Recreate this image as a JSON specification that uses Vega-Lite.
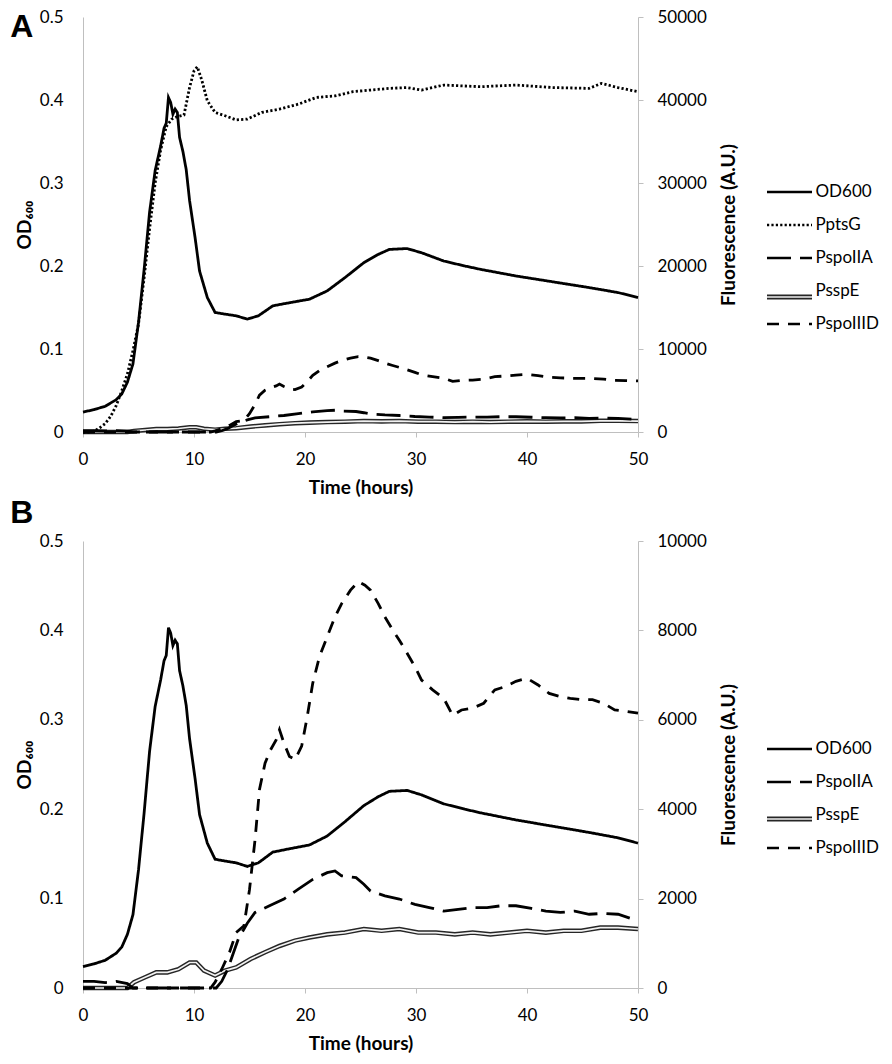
{
  "$schema": "https://vega.github.io/schema/vega-lite/v6.json",
  "description": "Growth (OD600) and promoter fluorescence over time, panels A and B",
  "padding": {"left": 10, "top": 8, "right": 2, "bottom": 2},
  "background": "white",
  "config": {
    "view": {"stroke": null},
    "font": "Lato",
    "axis": {
      "grid": false,
      "domainColor": "#bfbfbf",
      "tickColor": "#bfbfbf",
      "labelFont": "Lato",
      "labelFontSize": 17,
      "labelColor": "black",
      "labelFlush": false,
      "titleFont": "Lato, DejaVu Sans",
      "titleFontSize": 19,
      "titleFontWeight": "bold",
      "titleColor": "black"
    },
    "legend": {
      "labelFont": "Lato",
      "labelFontSize": 17,
      "labelColor": "black",
      "title": null,
      "orient": "none",
      "symbolType": "stroke",
      "symbolSize": 2025,
      "labelOffset": 2,
      "rowPadding": 1
    }
  },
  "datasets": {
    "curves": [
      {"t": 0, "v": 0.024, "s": "OD600"}, {"t": 1, "v": 0.027, "s": "OD600"}, {"t": 2, "v": 0.031, "s": "OD600"},
      {"t": 3, "v": 0.039, "s": "OD600"}, {"t": 3.5, "v": 0.046, "s": "OD600"}, {"t": 4, "v": 0.06, "s": "OD600"},
      {"t": 4.5, "v": 0.082, "s": "OD600"}, {"t": 5, "v": 0.132, "s": "OD600"}, {"t": 5.5, "v": 0.195, "s": "OD600"},
      {"t": 6, "v": 0.265, "s": "OD600"}, {"t": 6.5, "v": 0.315, "s": "OD600"}, {"t": 7, "v": 0.345, "s": "OD600"},
      {"t": 7.3, "v": 0.366, "s": "OD600"}, {"t": 7.5, "v": 0.372, "s": "OD600"}, {"t": 7.7, "v": 0.403, "s": "OD600"},
      {"t": 7.9, "v": 0.397, "s": "OD600"}, {"t": 8.1, "v": 0.383, "s": "OD600"}, {"t": 8.3, "v": 0.389, "s": "OD600"},
      {"t": 8.5, "v": 0.385, "s": "OD600"}, {"t": 8.7, "v": 0.355, "s": "OD600"}, {"t": 9, "v": 0.338, "s": "OD600"},
      {"t": 9.3, "v": 0.316, "s": "OD600"}, {"t": 9.6, "v": 0.279, "s": "OD600"}, {"t": 10.1, "v": 0.234, "s": "OD600"},
      {"t": 10.5, "v": 0.194, "s": "OD600"}, {"t": 11.2, "v": 0.162, "s": "OD600"}, {"t": 11.9, "v": 0.144, "s": "OD600"},
      {"t": 12.8, "v": 0.142, "s": "OD600"}, {"t": 13.8, "v": 0.14, "s": "OD600"}, {"t": 14.8, "v": 0.136, "s": "OD600"},
      {"t": 15.8, "v": 0.14, "s": "OD600"}, {"t": 17.1, "v": 0.152, "s": "OD600"}, {"t": 18.7, "v": 0.156, "s": "OD600"},
      {"t": 20.4, "v": 0.16, "s": "OD600"}, {"t": 22, "v": 0.17, "s": "OD600"}, {"t": 23.6, "v": 0.186, "s": "OD600"},
      {"t": 25.3, "v": 0.204, "s": "OD600"}, {"t": 26.6, "v": 0.214, "s": "OD600"}, {"t": 27.6, "v": 0.22, "s": "OD600"},
      {"t": 29.2, "v": 0.221, "s": "OD600"}, {"t": 30.5, "v": 0.216, "s": "OD600"}, {"t": 32.5, "v": 0.206, "s": "OD600"},
      {"t": 34.4, "v": 0.2, "s": "OD600"}, {"t": 35.8, "v": 0.196, "s": "OD600"}, {"t": 39, "v": 0.188, "s": "OD600"},
      {"t": 42.3, "v": 0.181, "s": "OD600"}, {"t": 45.6, "v": 0.174, "s": "OD600"}, {"t": 48.2, "v": 0.168, "s": "OD600"},
      {"t": 50, "v": 0.162, "s": "OD600"},

      {"t": 0, "v": 0, "s": "PptsG"}, {"t": 0.5, "v": 0, "s": "PptsG"}, {"t": 1, "v": 100, "s": "PptsG"},
      {"t": 1.5, "v": 500, "s": "PptsG"}, {"t": 2, "v": 1000, "s": "PptsG"}, {"t": 2.5, "v": 1900, "s": "PptsG"},
      {"t": 3, "v": 3200, "s": "PptsG"}, {"t": 3.5, "v": 5000, "s": "PptsG"}, {"t": 4, "v": 7000, "s": "PptsG"},
      {"t": 4.5, "v": 9800, "s": "PptsG"}, {"t": 5, "v": 13000, "s": "PptsG"}, {"t": 5.5, "v": 18500, "s": "PptsG"},
      {"t": 6, "v": 24500, "s": "PptsG"}, {"t": 6.5, "v": 30000, "s": "PptsG"}, {"t": 7, "v": 34000, "s": "PptsG"},
      {"t": 7.5, "v": 36800, "s": "PptsG"}, {"t": 8, "v": 37700, "s": "PptsG"}, {"t": 8.5, "v": 38000, "s": "PptsG"},
      {"t": 9.1, "v": 38200, "s": "PptsG"}, {"t": 9.6, "v": 41500, "s": "PptsG"}, {"t": 10, "v": 43500, "s": "PptsG"},
      {"t": 10.3, "v": 44000, "s": "PptsG"}, {"t": 10.7, "v": 42400, "s": "PptsG"}, {"t": 11.2, "v": 39900, "s": "PptsG"},
      {"t": 11.9, "v": 38500, "s": "PptsG"}, {"t": 12.8, "v": 38100, "s": "PptsG"}, {"t": 13.8, "v": 37600, "s": "PptsG"},
      {"t": 14.8, "v": 37700, "s": "PptsG"}, {"t": 16.1, "v": 38500, "s": "PptsG"}, {"t": 17.7, "v": 38900, "s": "PptsG"},
      {"t": 19.4, "v": 39500, "s": "PptsG"}, {"t": 21, "v": 40300, "s": "PptsG"}, {"t": 22.7, "v": 40500, "s": "PptsG"},
      {"t": 24.3, "v": 41000, "s": "PptsG"}, {"t": 25.9, "v": 41200, "s": "PptsG"}, {"t": 27.6, "v": 41400, "s": "PptsG"},
      {"t": 29.2, "v": 41500, "s": "PptsG"}, {"t": 30.5, "v": 41200, "s": "PptsG"}, {"t": 32.5, "v": 41800, "s": "PptsG"},
      {"t": 35.8, "v": 41600, "s": "PptsG"}, {"t": 39, "v": 41800, "s": "PptsG"}, {"t": 42.3, "v": 41500, "s": "PptsG"},
      {"t": 45.6, "v": 41400, "s": "PptsG"}, {"t": 46.7, "v": 42000, "s": "PptsG"}, {"t": 48.2, "v": 41500, "s": "PptsG"},
      {"t": 50, "v": 41000, "s": "PptsG"},

      {"t": 0, "v": 150, "s": "PspoIIA"}, {"t": 1, "v": 150, "s": "PspoIIA"}, {"t": 2, "v": 120, "s": "PspoIIA"},
      {"t": 3, "v": 150, "s": "PspoIIA"}, {"t": 4, "v": 100, "s": "PspoIIA"}, {"t": 4.5, "v": 0, "s": "PspoIIA"},
      {"t": 12, "v": 0, "s": "PspoIIA"}, {"t": 12.5, "v": 150, "s": "PspoIIA"}, {"t": 13, "v": 400, "s": "PspoIIA"},
      {"t": 13.5, "v": 750, "s": "PspoIIA"}, {"t": 14, "v": 1100, "s": "PspoIIA"}, {"t": 14.8, "v": 1450, "s": "PspoIIA"},
      {"t": 15.5, "v": 1690, "s": "PspoIIA"}, {"t": 16.8, "v": 1840, "s": "PspoIIA"}, {"t": 18.1, "v": 1990, "s": "PspoIIA"},
      {"t": 19.4, "v": 2210, "s": "PspoIIA"}, {"t": 20.7, "v": 2430, "s": "PspoIIA"}, {"t": 22, "v": 2580, "s": "PspoIIA"},
      {"t": 22.7, "v": 2620, "s": "PspoIIA"}, {"t": 23.3, "v": 2510, "s": "PspoIIA"}, {"t": 24.6, "v": 2470, "s": "PspoIIA"},
      {"t": 25.3, "v": 2320, "s": "PspoIIA"}, {"t": 25.9, "v": 2170, "s": "PspoIIA"}, {"t": 27.2, "v": 2060, "s": "PspoIIA"},
      {"t": 28.5, "v": 1990, "s": "PspoIIA"}, {"t": 29.9, "v": 1870, "s": "PspoIIA"}, {"t": 31.2, "v": 1800, "s": "PspoIIA"},
      {"t": 32.5, "v": 1720, "s": "PspoIIA"}, {"t": 33.8, "v": 1760, "s": "PspoIIA"}, {"t": 35.1, "v": 1800, "s": "PspoIIA"},
      {"t": 36.4, "v": 1800, "s": "PspoIIA"}, {"t": 37.7, "v": 1840, "s": "PspoIIA"}, {"t": 39, "v": 1840, "s": "PspoIIA"},
      {"t": 40.4, "v": 1780, "s": "PspoIIA"}, {"t": 41.7, "v": 1720, "s": "PspoIIA"}, {"t": 43, "v": 1690, "s": "PspoIIA"},
      {"t": 44.3, "v": 1720, "s": "PspoIIA"}, {"t": 45.6, "v": 1650, "s": "PspoIIA"}, {"t": 46.9, "v": 1670, "s": "PspoIIA"},
      {"t": 48.2, "v": 1650, "s": "PspoIIA"}, {"t": 50, "v": 1500, "s": "PspoIIA"},

      {"t": 0, "v": 0, "s": "PsspE"}, {"t": 4, "v": 0, "s": "PsspE"}, {"t": 4.6, "v": 130, "s": "PsspE"},
      {"t": 5.6, "v": 240, "s": "PsspE"}, {"t": 6.6, "v": 350, "s": "PsspE"}, {"t": 7.6, "v": 350, "s": "PsspE"},
      {"t": 8.6, "v": 420, "s": "PsspE"}, {"t": 9.6, "v": 570, "s": "PsspE"}, {"t": 10.2, "v": 570, "s": "PsspE"},
      {"t": 10.9, "v": 390, "s": "PsspE"}, {"t": 11.9, "v": 280, "s": "PsspE"}, {"t": 12.8, "v": 390, "s": "PsspE"},
      {"t": 13.8, "v": 460, "s": "PsspE"}, {"t": 15.1, "v": 650, "s": "PsspE"}, {"t": 16.4, "v": 800, "s": "PsspE"},
      {"t": 17.7, "v": 940, "s": "PsspE"}, {"t": 19.1, "v": 1060, "s": "PsspE"}, {"t": 20.4, "v": 1130, "s": "PsspE"},
      {"t": 22, "v": 1200, "s": "PsspE"}, {"t": 23.6, "v": 1240, "s": "PsspE"}, {"t": 25.3, "v": 1320, "s": "PsspE"},
      {"t": 26.9, "v": 1280, "s": "PsspE"}, {"t": 28.5, "v": 1320, "s": "PsspE"}, {"t": 30.2, "v": 1240, "s": "PsspE"},
      {"t": 31.8, "v": 1240, "s": "PsspE"}, {"t": 33.5, "v": 1200, "s": "PsspE"}, {"t": 35.1, "v": 1240, "s": "PsspE"},
      {"t": 36.7, "v": 1200, "s": "PsspE"}, {"t": 38.4, "v": 1240, "s": "PsspE"}, {"t": 40, "v": 1280, "s": "PsspE"},
      {"t": 41.7, "v": 1240, "s": "PsspE"}, {"t": 43.3, "v": 1280, "s": "PsspE"}, {"t": 44.9, "v": 1280, "s": "PsspE"},
      {"t": 46.6, "v": 1350, "s": "PsspE"}, {"t": 48.2, "v": 1350, "s": "PsspE"}, {"t": 50, "v": 1320, "s": "PsspE"},

      {"t": 0, "v": 0, "s": "PspoIIID"}, {"t": 11.5, "v": 0, "s": "PspoIIID"}, {"t": 11.9, "v": 130, "s": "PspoIIID"},
      {"t": 12.5, "v": 420, "s": "PspoIIID"}, {"t": 13.2, "v": 800, "s": "PspoIIID"}, {"t": 13.8, "v": 1240, "s": "PspoIIID"},
      {"t": 14.5, "v": 1390, "s": "PspoIIID"}, {"t": 15, "v": 2200, "s": "PspoIIID"}, {"t": 15.5, "v": 3320, "s": "PspoIIID"},
      {"t": 15.9, "v": 4440, "s": "PspoIIID"}, {"t": 16.4, "v": 5030, "s": "PspoIIID"}, {"t": 16.9, "v": 5330, "s": "PspoIIID"},
      {"t": 17.4, "v": 5550, "s": "PspoIIID"}, {"t": 17.7, "v": 5780, "s": "PspoIIID"}, {"t": 18.1, "v": 5480, "s": "PspoIIID"},
      {"t": 18.6, "v": 5180, "s": "PspoIIID"}, {"t": 19.1, "v": 5110, "s": "PspoIIID"}, {"t": 19.7, "v": 5410, "s": "PspoIIID"},
      {"t": 20.2, "v": 6070, "s": "PspoIIID"}, {"t": 20.7, "v": 6820, "s": "PspoIIID"}, {"t": 21.3, "v": 7410, "s": "PspoIIID"},
      {"t": 22, "v": 7860, "s": "PspoIIID"}, {"t": 22.7, "v": 8300, "s": "PspoIIID"}, {"t": 23.3, "v": 8600, "s": "PspoIIID"},
      {"t": 24.1, "v": 8900, "s": "PspoIIID"}, {"t": 24.8, "v": 9090, "s": "PspoIIID"}, {"t": 25.4, "v": 9010, "s": "PspoIIID"},
      {"t": 25.9, "v": 8900, "s": "PspoIIID"}, {"t": 26.6, "v": 8600, "s": "PspoIIID"}, {"t": 27.2, "v": 8300, "s": "PspoIIID"},
      {"t": 27.9, "v": 8010, "s": "PspoIIID"}, {"t": 28.5, "v": 7780, "s": "PspoIIID"}, {"t": 29.2, "v": 7490, "s": "PspoIIID"},
      {"t": 29.9, "v": 7190, "s": "PspoIIID"}, {"t": 30.5, "v": 6890, "s": "PspoIIID"}, {"t": 31.5, "v": 6670, "s": "PspoIIID"},
      {"t": 32.5, "v": 6480, "s": "PspoIIID"}, {"t": 33.3, "v": 6100, "s": "PspoIIID"}, {"t": 34.1, "v": 6220, "s": "PspoIIID"},
      {"t": 35.1, "v": 6260, "s": "PspoIIID"}, {"t": 36.1, "v": 6370, "s": "PspoIIID"}, {"t": 37.1, "v": 6670, "s": "PspoIIID"},
      {"t": 38, "v": 6740, "s": "PspoIIID"}, {"t": 39, "v": 6860, "s": "PspoIIID"}, {"t": 40, "v": 6930, "s": "PspoIIID"},
      {"t": 41, "v": 6780, "s": "PspoIIID"}, {"t": 42, "v": 6590, "s": "PspoIIID"}, {"t": 43, "v": 6520, "s": "PspoIIID"},
      {"t": 43.9, "v": 6480, "s": "PspoIIID"}, {"t": 44.9, "v": 6450, "s": "PspoIIID"}, {"t": 45.9, "v": 6450, "s": "PspoIIID"},
      {"t": 46.9, "v": 6370, "s": "PspoIIID"}, {"t": 47.9, "v": 6220, "s": "PspoIIID"}, {"t": 48.9, "v": 6190, "s": "PspoIIID"},
      {"t": 50, "v": 6150, "s": "PspoIIID"}
    ]
  },
  "spacing": 0,
  "vconcat": [
    {
      "title": {"text": "A", "anchor": "start", "frame": "bounds", "font": "Liberation Sans", "fontSize": 32, "fontWeight": "bold", "color": "black", "offset": -36, "dx": -5},
      "width": 555,
      "height": 415,
      "data": {"name": "curves"},
      "encoding": {
        "x": {
          "field": "t", "type": "quantitative",
          "scale": {"domain": [0, 50], "nice": false},
          "axis": {"title": "Time (hours)", "values": [0, 10, 20, 30, 40, 50], "format": "d", "tickSize": 5, "labelPadding": 14, "titlePadding": 11}
        }
      },
      "layer": [
        {
          "transform": [{"filter": "datum.s === 'OD600'"}],
          "mark": {"type": "line", "color": "black", "strokeWidth": 2.8},
          "encoding": {
            "y": {
              "field": "v", "type": "quantitative",
              "scale": {"domain": [0, 0.5], "nice": false},
              "axis": {"title": "OD₆₀₀", "orient": "left", "values": [0, 0.1, 0.2, 0.3, 0.4, 0.5], "format": "~g", "ticks": false, "tickSize": 0, "labelPadding": 20, "titlePadding": 5}
            },
            "strokeDash": {
              "field": "s", "type": "nominal",
              "scale": {"domain": ["OD600", "PptsG", "PspoIIA", "PsspE", "PspoIIID"], "range": [[1, 0], [2.2, 2.2], [24, 9], [0, 60], [12, 9]]},
              "legend": {"legendX": 682.5, "legendY": 151, "symbolStrokeWidth": 2.6, "symbolStrokeColor": "black"}
            }
          }
        },
        {
          "encoding": {
            "y": {
              "field": "v", "type": "quantitative",
              "scale": {"domain": [0, 50000], "nice": false},
              "axis": {"title": "Fluorescence (A.U.)", "orient": "right", "values": [0, 10000, 20000, 30000, 40000, 50000], "format": "d", "tickSize": 5, "labelPadding": 14, "labelAlign": "left", "titlePadding": 13, "titleAngle": 270, "titleBaseline": "top"}
            }
          },
          "layer": [
            {
              "transform": [{"filter": "datum.s === 'PsspE'"}],
              "mark": {"type": "line", "strokeWidth": 4.6},
              "encoding": {
                "color": {
                  "field": "s", "type": "nominal",
                  "scale": {"domain": ["PsspE"], "range": ["#262626"]},
                  "legend": {"legendX": 681.5, "legendY": 255, "symbolStrokeWidth": 5, "labelExpr": "''"}
                }
              }
            },
            {
              "transform": [{"filter": "datum.s === 'PsspE'"}],
              "mark": {"type": "line", "strokeWidth": 1.7},
              "encoding": {
                "stroke": {
                  "field": "s", "type": "nominal",
                  "scale": {"domain": ["PsspE", "PsspE "], "range": ["#f2f2f2", "transparent"]},
                  "legend": {"legendX": 683, "legendY": 256.5, "symbolStrokeWidth": 1.6, "labelExpr": "''"}
                }
              }
            },
            {
              "transform": [{"filter": "datum.s === 'PptsG' || datum.s === 'PspoIIA' || datum.s === 'PspoIIID'"}],
              "mark": {"type": "line", "color": "black", "strokeWidth": 2.8},
              "encoding": {
                "strokeDash": {
                  "field": "s", "type": "nominal",
                  "scale": {"domain": ["OD600", "PptsG", "PspoIIA", "PsspE", "PspoIIID"], "range": [[1, 0], [2.2, 2.2], [24, 9], [0, 60], [12, 9]]}
                }
              }
            }
          ]
        }
      ],
      "resolve": {"scale": {"y": "independent"}}
    },
    {
      "title": {"text": "B", "anchor": "start", "frame": "bounds", "font": "Liberation Sans", "fontSize": 32, "fontWeight": "bold", "color": "black", "offset": 2, "dx": -5},
      "width": 555,
      "height": 447,
      "data": {"name": "curves"},
      "encoding": {
        "x": {
          "field": "t", "type": "quantitative",
          "scale": {"domain": [0, 50], "nice": false},
          "axis": {"title": "Time (hours)", "values": [0, 10, 20, 30, 40, 50], "format": "d", "tickSize": 5, "labelPadding": 14, "titlePadding": 11}
        }
      },
      "layer": [
        {
          "transform": [{"filter": "datum.s === 'OD600'"}],
          "mark": {"type": "line", "color": "black", "strokeWidth": 2.8},
          "encoding": {
            "y": {
              "field": "v", "type": "quantitative",
              "scale": {"domain": [0, 0.5], "nice": false},
              "axis": {"title": "OD₆₀₀", "orient": "left", "values": [0, 0.1, 0.2, 0.3, 0.4, 0.5], "format": "~g", "ticks": false, "tickSize": 0, "labelPadding": 20, "titlePadding": 5}
            },
            "strokeDash": {
              "field": "s", "type": "nominal",
              "scale": {"domain": ["OD600", "PspoIIA", "PsspE", "PspoIIID"], "range": [[1, 0], [24, 9], [0, 60], [12, 9]]},
              "legend": {"legendX": 682.5, "legendY": 184, "symbolStrokeWidth": 2.6, "symbolStrokeColor": "black"}
            }
          }
        },
        {
          "encoding": {
            "y": {
              "field": "v", "type": "quantitative",
              "scale": {"domain": [0, 10000], "nice": false},
              "axis": {"title": "Fluorescence (A.U.)", "orient": "right", "values": [0, 2000, 4000, 6000, 8000, 10000], "format": "d", "tickSize": 5, "labelPadding": 14, "labelAlign": "left", "titlePadding": 13, "titleAngle": 270, "titleBaseline": "top"}
            }
          },
          "layer": [
            {
              "transform": [{"filter": "datum.s === 'PsspE'"}],
              "mark": {"type": "line", "strokeWidth": 4.6},
              "encoding": {
                "color": {
                  "field": "s", "type": "nominal",
                  "scale": {"domain": ["PsspE"], "range": ["#262626"]},
                  "legend": {"legendX": 681.5, "legendY": 253, "symbolStrokeWidth": 5, "labelExpr": "''"}
                }
              }
            },
            {
              "transform": [{"filter": "datum.s === 'PsspE'"}],
              "mark": {"type": "line", "strokeWidth": 1.7},
              "encoding": {
                "stroke": {
                  "field": "s", "type": "nominal",
                  "scale": {"domain": ["PsspE", "PsspE "], "range": ["#f2f2f2", "transparent"]},
                  "legend": {"legendX": 683, "legendY": 254.5, "symbolStrokeWidth": 1.6, "labelExpr": "''"}
                }
              }
            },
            {
              "transform": [{"filter": "datum.s === 'PspoIIA' || datum.s === 'PspoIIID'"}],
              "mark": {"type": "line", "color": "black", "strokeWidth": 2.8},
              "encoding": {
                "strokeDash": {
                  "field": "s", "type": "nominal",
                  "scale": {"domain": ["OD600", "PspoIIA", "PsspE", "PspoIIID"], "range": [[1, 0], [24, 9], [0, 60], [12, 9]]}
                }
              }
            }
          ]
        }
      ],
      "resolve": {"scale": {"y": "independent"}}
    }
  ],
  "resolve": {
    "scale": {"strokeDash": "independent", "stroke": "independent", "color": "independent"},
    "legend": {"strokeDash": "independent", "stroke": "independent", "color": "independent"}
  }
}
